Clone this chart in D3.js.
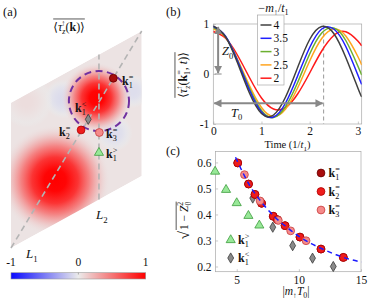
<!DOCTYPE html>
<html>
<head>
<meta charset="utf-8">
<script src="https://cdn.jsdelivr.net/npm/d3@7"></script>
<style>
  body { margin: 0; background: #fff; }
  svg { display: block; }
</style>
</head>
<body>
<svg id="fig" width="374" height="303"></svg>
<script>
const svg = d3.select("#fig");
const serif = "'Liberation Serif', 'DejaVu Serif', serif";

// ---- panel (b) data: time traces for each -m/t1 ----
const massLabels = ["4", "3.5", "3", "2.5", "2"];
const massColors = ["#404040", "#1f1fff", "#6cb030", "#ffa51f", "#ff1a1a"];
const timeB = [0, 0.25, 0.5, 0.75, 1, 1.25, 1.5, 1.75, 2, 2.25, 2.5, 2.75, 3, 3.08];
const tauM4  = [0.96, 0.75, 0.23, -0.38, -0.79, -0.82, -0.46, 0.13, 0.69, 0.95, 0.81, 0.33, -0.28, -0.46];
const tauM35 = [0.95, 0.76, 0.27, -0.32, -0.76, -0.86, -0.58, -0.04, 0.53, 0.90, 0.90, 0.55, -0.02, -0.21];
const tauM3  = [0.93, 0.75, 0.28, -0.28, -0.73, -0.87, -0.65, -0.17, 0.40, 0.82, 0.92, 0.67, 0.16, -0.02];
const tauM25 = [0.90, 0.74, 0.30, -0.23, -0.67, -0.85, -0.70, -0.28, 0.26, 0.71, 0.90, 0.76, 0.35, 0.18];
const tauM2  = [0.85, 0.72, 0.38, -0.07, -0.48, -0.70, -0.67, -0.40, 0.02, 0.46, 0.77, 0.845, 0.66, 0.56];
const tauSeries = [tauM4, tauM35, tauM3, tauM25, tauM2];
const T0 = 2.29, Z0 = 0.96, arrowT = 0.1, arrowZ = -0.587;

// ---- panel (c) data ----
const k1eq = [[5.08, 0.598], [5.95, 0.517], [6.47, 0.477], [7.0, 0.443], [7.94, 0.393], [8.27, 0.38], [8.89, 0.357], [10.09, 0.313], [11.78, 0.267], [13.58, 0.235]];
const k2eq = [[5.08, 0.598], [5.95, 0.517], [6.47, 0.477], [7.0, 0.443], [7.94, 0.393], [8.27, 0.38], [8.89, 0.357], [10.09, 0.313], [11.78, 0.267], [13.58, 0.235]];
const k3eq = [[5.62, 0.553], [6.88, 0.452], [8.35, 0.377], [9.34, 0.337], [10.58, 0.299]];
const k1gt = [[3.26, 0.565], [4.14, 0.495], [5.0, 0.444], [5.94, 0.395], [6.82, 0.358]];
const k1lt = [[6.29, 0.463], [7.9, 0.351], [9.5, 0.28], [11.1, 0.232], [12.77, 0.2]];
const fitX = [4.9, 5.5, 6, 7, 8, 9, 10, 11, 12, 13, 14, 15.05];
const fitY = [0.62, 0.56, 0.515, 0.447, 0.393, 0.352, 0.316, 0.288, 0.265, 0.245, 0.229, 0.217];

// ---- panel (a) data (rhombus coords u,v in [0,1]) ----
const blobU = [0.40, 0.93, 0.79, 0.12, 0.337, 0.654];
const blobV = [0.83, 0.62, 0.40, 0.95, 0.30, 0.71];
const blobR = [0.15, 0.13, 0.14, 0.2, 0.42, 0.27];
const blobVal = [-0.07, -0.06, -0.06, 0.06, 1.0, 1.0];
const bgValue = 0.035;
const kPointNames = ["k1eq", "k2eq", "k3eq", "k1gt", "k1lt"];
const kPointU = [0.783, 0.536, 0.676, 0.673, 0.591];
const kPointV = [0.782, 0.548, 0.461, 0.323, 0.594];
const circleU = 0.673, circleV = 0.679, circleR = 0.23;
const L2u = 0.673;

// colour map of the colorbar
const cmap = d3.scaleLinear().domain([-1, 0, 1]).range(["#0a0aff", "#ebebeb", "#ff0000"]).clamp(true);

function addMath(parent, x, y, size, parts, anchor) {
  const t = parent.append("text").attr("x", x).attr("y", y)
    .attr("font-family", serif).attr("font-size", size)
    .attr("text-anchor", anchor || "start").attr("fill", "#111");
  let shift = 0;
  parts.forEach(p => {
    const s = t.append("tspan");
    if (p.b) s.attr("font-weight", "bold");
    if (p.i) s.attr("font-style", "italic");
    let target = 0, fs = size;
    if (p.sub) { target = size * 0.28; fs = size * 0.68; }
    if (p.sup) { target = -size * 0.42; fs = size * 0.68; }
    s.attr("font-size", fs).attr("dy", target - shift);
    if (p.dx) s.attr("dx", p.dx);
    shift = target;
    s.text(p.t);
  });
  return t;
}
function overline(parent, textSel, pad) {
  const bb = textSel.node().getBBox();
  parent.append("line").attr("x1", bb.x).attr("x2", bb.x + bb.width)
    .attr("y1", bb.y - (pad || 0)).attr("y2", bb.y - (pad || 0))
    .attr("stroke", "#111").attr("stroke-width", 0.7);
}
const kParts = (sub, sup, size) => [{t: "k", b: true}, {t: sub, sub: true}, {t: sup, sup: true, dx: -size * 0.34}];

// ================= panel (a) =================
const ax = d3.scaleLinear([0, 1], [11, 141.7]);
const ayU = d3.scaleLinear([0, 1], [0, -72]);
const ayV = d3.scaleLinear([0, 1], [248, 103]);
const toXY = (u, v) => [ax(u), ayV(v) + ayU(u)];

const defs = svg.append("defs");
const rhomb = [toXY(0, 0), toXY(1, 0), toXY(1, 1), toXY(0, 1)];
defs.append("clipPath").attr("id", "clipA").append("polygon").attr("points", rhomb.join(" "));

const gA = svg.append("g").attr("clip-path", "url(#clipA)");
gA.append("polygon").attr("points", rhomb.join(" ")).attr("fill", cmap(bgValue));

blobU.forEach((u, i) => {
  const id = "blob" + i, v0 = blobVal[i];
  const grad = defs.append("radialGradient").attr("id", id);
  const stops = [[0, 1, 1], [0.2, 0.98, 1], [0.42, 0.78, 1], [0.62, 0.48, 0.92], [0.8, 0.22, 0.7], [1, 0.05, 0]];
  stops.forEach(s => grad.append("stop").attr("offset", s[0])
    .attr("stop-color", cmap(v0 * s[1])).attr("stop-opacity", s[2]));
  const [cx, cy] = toXY(u, blobV[i]);
  gA.append("circle").attr("cx", cx).attr("cy", cy)
    .attr("r", ax(blobR[i]) - ax(0)).attr("fill", `url(#${id})`);
});

// dashed guide lines
const p0 = toXY(0, 0), p2 = toXY(1, 1), l2a = toXY(L2u, 0), l2b = toXY(L2u, 1);
svg.append("line").attr("x1", p0[0]).attr("y1", p0[1]).attr("x2", p2[0]).attr("y2", p2[1])
  .attr("stroke", "#b4b4b4").attr("stroke-width", 1.6).attr("stroke-dasharray", "6,4");
svg.append("line").attr("x1", l2a[0]).attr("y1", l2a[1]).attr("x2", l2b[0]).attr("y2", l2b[1])
  .attr("stroke", "#b4b4b4").attr("stroke-width", 1.6).attr("stroke-dasharray", "6,4");

// purple circle
const cc = toXY(circleU, circleV);
svg.append("circle").attr("cx", cc[0]).attr("cy", cc[1]).attr("r", ax(circleR) - ax(0))
  .attr("fill", "none").attr("stroke", "#7030a0").attr("stroke-width", 2).attr("stroke-dasharray", "7,4.5");

// k-points
const markerStyle = {
  k1eq: {fill: "#a80c0c", stroke: "#6a0000"},
  k2eq: {fill: "#ee1c1c", stroke: "#b00000"},
  k3eq: {fill: "#f58a8a", stroke: "#c83c3c"},
  k1gt: {fill: "#98e898", stroke: "#3c9c3c"},
  k1lt: {fill: "#8a8a8a", stroke: "#3a3a3a"}
};
const symFor = name => name === "k1gt" ? d3.symbol(d3.symbolTriangle, 36)()
  : name === "k1lt" ? d3.symbol(d3.symbolDiamond, 30)() : d3.symbol(d3.symbolCircle, 48)();
kPointNames.forEach((n, i) => {
  const [x, y] = toXY(kPointU[i], kPointV[i]);
  svg.append("path").attr("d", symFor(n)).attr("transform", `translate(${x},${y})`)
    .attr("fill", markerStyle[n].fill).attr("stroke", markerStyle[n].stroke).attr("stroke-width", 0.8);
});
addMath(svg, 122, 85, 12, kParts("1", "=", 12));
addMath(svg, 75, 112, 12, kParts("1", "<", 12));
addMath(svg, 59, 136, 12, kParts("2", "=", 12));
addMath(svg, 106, 138, 12, kParts("3", "=", 12));
addMath(svg, 106, 158, 12, kParts("1", ">", 12));
addMath(svg, 26, 258, 13, [{t: "L", i: true}, {t: "1", sub: true}]);
addMath(svg, 96, 219, 13, [{t: "L", i: true}, {t: "2", sub: true}]);

const titleA = addMath(svg, 69, 31, 12, [{t: "⟨"}, {t: "τ", i: true}, {t: "z", sub: true, i: true}, {t: "↑", sup: true, dx: -4}, {t: "("}, {t: "k", b: true}, {t: ")⟩"}], "middle");
overline(svg, titleA, 0);

// colorbar
const cbX = d3.scaleLinear([-1, 1], [11, 145.7]);
const cbGrad = defs.append("linearGradient").attr("id", "cbGrad");
d3.range(-1, 1.01, 0.25).forEach(v => cbGrad.append("stop")
  .attr("offset", (v + 1) / 2).attr("stop-color", cmap(v)));
svg.append("rect").attr("x", cbX(-1)).attr("y", 272.7).attr("width", cbX(1) - cbX(-1)).attr("height", 6.3)
  .attr("fill", "url(#cbGrad)").attr("stroke", "#9a9a9a").attr("stroke-width", 0.6);
[-1, 0, 1].forEach(v => {
  svg.append("text").attr("x", cbX(v)).attr("y", 266).attr("text-anchor", "middle")
    .attr("font-family", serif).attr("font-size", 11.5).attr("fill", "#111").text(String(v));
});
svg.append("line").attr("x1", cbX(0)).attr("x2", cbX(0)).attr("y1", 272.7).attr("y2", 274.5)
  .attr("stroke", "#777").attr("stroke-width", 0.6);

// ================= panel (b) =================
const xB = d3.scaleLinear([0, 3.08], [213.3, 361.7]);
const yB = d3.scaleLinear([-1, 1], [124, 24]);
const gB = svg.append("g");

function styleAxis(g) {
  g.select(".domain").remove();
  g.selectAll(".tick line").attr("stroke", "#a8a8a8").attr("stroke-width", 0.6);
  g.selectAll(".tick text").attr("font-family", serif).attr("font-size", 11.5).attr("fill", "#111");
}
gB.append("g").attr("transform", `translate(0,${yB(-1)})`)
  .call(d3.axisBottom(xB).tickValues([0, 1, 2, 3]).tickSizeInner(-2.5).tickSizeOuter(0).tickPadding(2.5).tickFormat(d => String(d)))
  .call(styleAxis);
gB.append("g").attr("transform", `translate(${xB(0)},0)`)
  .call(d3.axisLeft(yB).tickValues([-1, 0, 1]).tickSizeInner(-2.5).tickSizeOuter(0).tickPadding(4).tickFormat(d => String(d)))
  .call(styleAxis);
gB.append("rect").attr("x", xB(0)).attr("y", yB(1)).attr("width", xB(3.08) - xB(0)).attr("height", yB(-1) - yB(1))
  .attr("fill", "none").attr("stroke", "#a8a8a8").attr("stroke-width", 0.7);

defs.append("clipPath").attr("id", "clipB").append("rect")
  .attr("x", xB(0)).attr("y", yB(1) - 4).attr("width", xB(3.08) - xB(0)).attr("height", yB(-1) - yB(1) + 4);

// T0 dashed marker
gB.append("line").attr("x1", xB(T0)).attr("x2", xB(T0)).attr("y1", yB(0.97)).attr("y2", yB(-1))
  .attr("stroke", "#999").attr("stroke-width", 1).attr("stroke-dasharray", "4,3");

const lineB = d3.line().x((d, i) => xB(timeB[i])).y(d => yB(d)).curve(d3.curveNatural);
const curveG = gB.append("g").attr("clip-path", "url(#clipB)");
tauSeries.slice().reverse().forEach((s, j) => {
  const i = tauSeries.length - 1 - j;
  curveG.append("path").attr("d", lineB(s)).attr("fill", "none")
    .attr("stroke", massColors[i]).attr("stroke-width", 1.5);
});

// arrows
const mk = defs.append("marker").attr("id", "arr").attr("viewBox", "0 0 10 10").attr("refX", 9).attr("refY", 5)
  .attr("markerWidth", 4).attr("markerHeight", 4).attr("orient", "auto-start-reverse");
mk.append("path").attr("d", "M0,0 L10,5 L0,10 z").attr("fill", "#888");
gB.append("line").attr("x1", xB(0) + 1).attr("x2", xB(T0) - 1).attr("y1", yB(arrowZ)).attr("y2", yB(arrowZ))
  .attr("stroke", "#888").attr("stroke-width", 2).attr("marker-start", "url(#arr)").attr("marker-end", "url(#arr)");
gB.append("line").attr("x1", xB(arrowT)).attr("x2", xB(arrowT)).attr("y1", yB(Z0) + 1).attr("y2", yB(0) - 1)
  .attr("stroke", "#888").attr("stroke-width", 2).attr("marker-start", "url(#arr)").attr("marker-end", "url(#arr)");
gB.append("line").attr("x1", xB(arrowT) - 3.5).attr("x2", xB(arrowT) + 3.5).attr("y1", yB(0)).attr("y2", yB(0))
  .attr("stroke", "#888").attr("stroke-width", 1);
addMath(gB, 222, 55, 12.5, [{t: "Z", i: true}, {t: "0", sub: true}]);
addMath(gB, 231, 116.5, 12.5, [{t: "T", i: true}, {t: "0", sub: true}]);

// legend (b)
gB.append("rect").attr("x", 257.5).attr("y", 15).attr("width", 26.5).attr("height", 70)
  .attr("fill", "#fff").attr("stroke", "#a8a8a8").attr("stroke-width", 0.7);
massLabels.forEach((lab, i) => {
  const y = 25 + i * 13.3;
  gB.append("line").attr("x1", 260.5).attr("x2", 271.5).attr("y1", y).attr("y2", y)
    .attr("stroke", massColors[i]).attr("stroke-width", 1.5);
  gB.append("text").attr("x", 273.5).attr("y", y + 4).attr("font-family", serif).attr("font-size", 11.5)
    .attr("fill", "#111").text(lab);
});
addMath(gB, 273.5, 12, 12, [{t: "−"}, {t: "m", i: true}, {t: "↑", sub: true}, {t: "/"}, {t: "t", i: true}, {t: "1", sub: true}], "middle");
addMath(gB, 287.5, 148, 10.5, [{t: "Time (1/"}, {t: "t", i: true}, {t: "1", sub: true}, {t: ")"}], "middle");
const ylabB = gB.append("g").attr("transform", "translate(187,75) rotate(-90)");
const ylabBText = addMath(ylabB, 0, 0, 12, [{t: "⟨"}, {t: "τ", i: true}, {t: "z", sub: true, i: true}, {t: "↑", sup: true, dx: -4},
  {t: "("}, {t: "k", b: true}, {t: "1", sub: true}, {t: "=", sup: true, dx: -4}, {t: ", "}, {t: "t", i: true}, {t: ")⟩"}], "middle");
overline(ylabB, ylabBText, 0);

// ================= panel (c) =================
const xC = d3.scaleLinear([3.3, 15], [215.6, 361]);
const yC = d3.scaleLinear([0.18, 0.642], [271.7, 151.5]);
const gC = svg.append("g");
gC.append("g").attr("transform", `translate(0,${yC(0.18)})`)
  .call(d3.axisBottom(xC).tickValues([5, 10, 15]).tickSizeInner(-2.5).tickSizeOuter(0).tickPadding(4))
  .call(styleAxis);
gC.append("g").attr("transform", `translate(${xC(3.3)},0)`)
  .call(d3.axisLeft(yC).tickValues([0.2, 0.3, 0.4, 0.5, 0.6]).tickSizeInner(-2.5).tickSizeOuter(0).tickPadding(4).tickFormat(d3.format(".1f")))
  .call(styleAxis);
gC.append("rect").attr("x", xC(3.3)).attr("y", yC(0.642)).attr("width", xC(15) - xC(3.3)).attr("height", yC(0.18) - yC(0.642))
  .attr("fill", "none").attr("stroke", "#a8a8a8").attr("stroke-width", 0.7);

const fitLine = d3.line().x(d => xC(d[0])).y(d => yC(d[1])).curve(d3.curveMonotoneX);
const drawSet = (data, name) => data.forEach(d => {
  gC.append("path").attr("d", symFor(name)).attr("transform", `translate(${xC(d[0])},${yC(d[1])})`)
    .attr("fill", markerStyle[name].fill).attr("stroke", markerStyle[name].stroke).attr("stroke-width", 0.8);
});
drawSet(k1gt, "k1gt");
drawSet(k1lt, "k1lt");
drawSet(k1eq, "k1eq");
drawSet(k2eq, "k2eq");
drawSet(k3eq, "k3eq");
gC.append("path").attr("d", fitLine(fitX.map((x, i) => [x, fitY[i]]))).attr("fill", "none")
  .attr("stroke", "#1a1aff").attr("stroke-width", 1.5).attr("stroke-dasharray", "5,4");

// legend (c)
[["k1eq", "1", "="], ["k2eq", "2", "="], ["k3eq", "3", "="]].forEach((e, i) => {
  const y = 173 + i * 18.5;
  gC.append("path").attr("d", symFor(e[0])).attr("transform", `translate(321,${y})`)
    .attr("fill", markerStyle[e[0]].fill).attr("stroke", markerStyle[e[0]].stroke).attr("stroke-width", 0.8);
  addMath(gC, 328.5, y + 4, 12, kParts(e[1], e[2], 12));
});
[["k1gt", "1", ">"], ["k1lt", "1", "<"]].forEach((e, i) => {
  const y = 240 + i * 18;
  gC.append("path").attr("d", symFor(e[0])).attr("transform", `translate(230.7,${y})`)
    .attr("fill", markerStyle[e[0]].fill).attr("stroke", markerStyle[e[0]].stroke).attr("stroke-width", 0.8);
  addMath(gC, 238, y + 4, 12, kParts(e[1], e[2], 12));
});
addMath(gC, 296, 295, 11.5, [{t: "|"}, {t: "m", i: true}, {t: "↑", sub: true}, {t: "T", i: true}, {t: "0", sub: true}, {t: "|"}], "middle");

const ylabC = gC.append("g").attr("transform", "translate(188,207) rotate(-90)");
ylabC.append("text").attr("x", -24).attr("y", 1).attr("font-family", serif).attr("font-size", 15)
  .attr("text-anchor", "end").attr("fill", "#111").text("√");
const ylabCText = addMath(ylabC, -23, 0, 11.5, [{t: "1 − "}, {t: "Z", i: true}, {t: "0", sub: true}, {t: "2", sup: true, dx: -4}], "start");
overline(ylabC, ylabCText, 0);

// panel letters
[["(a)", 3, 16], ["(b)", 166, 16], ["(c)", 166, 155]].forEach(d => {
  svg.append("text").attr("x", d[1]).attr("y", d[2]).attr("font-family", serif).attr("font-size", 12.5)
    .attr("fill", "#111").text(d[0]);
});
</script>
</body>
</html>
